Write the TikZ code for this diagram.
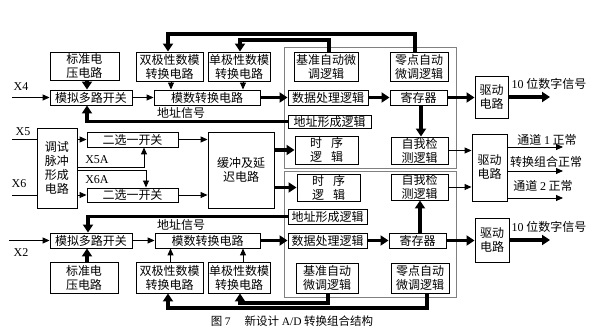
\documentclass[tikz,border=0pt]{standalone}
\usepackage{fontspec}
\setmainfont{Noto Sans CJK SC}
\newfontfamily\lat{Liberation Serif}
\usetikzlibrary{arrows.meta, positioning}

\begin{document}
\begin{tikzpicture}[
  x=1pt, y=-1pt,
  blk/.style={rectangle, draw, line width=0.9pt, inner sep=0pt, align=center, font=\fontsize{12}{14}\selectfont},
  lblk/.style={blk, align=left, inner xsep=1.5pt},
  sig/.style={line width=0.9pt, -{Triangle[length=7pt,width=6pt]}},
  bus/.style={line width=3.5pt, -{Triangle[length=8pt,width=10pt]}},
  frame/.style={draw=gray, line width=0.9pt},
  lbl/.style={inner sep=0pt, font=\fontsize{12}{14}\selectfont}
]
  \useasboundingbox (0,0) rectangle (590,328);

  % gray frames round the logic blocks
  \draw[frame] (284,47) rectangle (456,168);
  \draw[frame] (284,171) rectangle (456,297);

  % upper channel
  \node[blk, minimum width=69pt, minimum height=28pt] (bz1) at (84.5,66) {标准电\\压电路};
  \node[blk, minimum width=82pt, minimum height=15pt] (mn1) at (91,97.5) {模拟多路开关};
  \node[blk, minimum width=67pt, minimum height=29pt] (sj1) at (169.5,66.5) {双极性数模\\转换电路};
  \node[blk, minimum width=62pt, minimum height=29pt] (dj1) at (239,66.5) {单极性数模\\转换电路};
  \node[blk, minimum width=106pt, minimum height=15pt] (ms1) at (207,97.5) {模数转换电路};
  \node[blk, minimum width=64pt, minimum height=29pt] (jz1) at (326,66.5) {基准自动微\\调逻辑};
  \node[blk, minimum width=58pt, minimum height=29pt] (ld1) at (419,66.5) {零点自动\\微调逻辑};
  \node[blk, minimum width=80pt, minimum height=15pt] (sc1) at (328,97.5) {数据处理逻辑};
  \node[blk, minimum width=57pt, minimum height=15pt] (jc1) at (418.5,97.5) {寄存器};
  \node[blk, minimum width=33pt, minimum height=42pt] (qd1) at (491.5,97) {驱动\\电路};
  \node[blk, minimum width=83pt, minimum height=13pt] (dz1) at (329.5,121.5) {地址形成逻辑};
  \node[blk, minimum width=63pt, minimum height=28pt] (sx1) at (326.5,150) {时\hspace{9pt}序\\逻\hspace{9pt}辑};
  \node[blk, minimum width=57pt, minimum height=27pt] (zw1) at (419.5,150.5) {自我检\\测逻辑};
  \node[lbl] (adr1) at (181,113) {地址信号};

  % test pulse part
  \node[blk, minimum width=91pt, minimum height=15pt] (ex1) at (132.5,139.5) {二选一开关};
  \node[blk, minimum width=91pt, minimum height=14pt] (ex2) at (132.5,195) {二选一开关};
  \coordinate (x5in) at (12,139.5);
  \coordinate (x6in) at (12,195);
  \draw[sig] (x5in) -- (ex1.west);
  \draw[sig] (x6in) -- (ex2.west);
  \node[blk, fill=white, minimum width=40pt, minimum height=80pt] (ts) at (57,168) {调试\\脉冲\\形成\\电路};
  \node[blk, minimum width=66pt, minimum height=76pt] (hc) at (241,170) {缓冲及延\\迟电路};
  \node[blk, minimum width=63pt, minimum height=27pt] (sx2) at (328.5,187.5) {时\hspace{9pt}序\\逻\hspace{9pt}辑};
  \node[blk, minimum width=57pt, minimum height=26pt] (zw2) at (419.5,187) {自我检\\测逻辑};
  \node[blk, minimum width=35pt, minimum height=67pt] (qd2) at (489.5,167.5) {驱动\\电路};

  % lower channel
  \node[blk, minimum width=79pt, minimum height=15pt] (dz2) at (327.5,216.5) {地址形成逻辑};
  \node[blk, minimum width=82pt, minimum height=15pt] (mn2) at (91,240.5) {模拟多路开关};
  \node[blk, minimum width=105pt, minimum height=15pt] (ms2) at (207.5,240.5) {模数转换电路};
  \node[blk, minimum width=79pt, minimum height=15pt] (sc2) at (327.5,240.5) {数据处理逻辑};
  \node[blk, minimum width=57pt, minimum height=15pt] (jc2) at (417.5,240.5) {寄存器};
  \node[blk, minimum width=34pt, minimum height=44pt] (qd3) at (492,240) {驱动\\电路};
  \node[lblk, minimum width=62pt, minimum height=30pt] (jz2) at (327,278) {基准自动\\微调逻辑};
  \node[lblk, minimum width=58pt, minimum height=30pt] (ld2) at (420,278) {零点自动\\微调逻辑};
  \node[blk, minimum width=68pt, minimum height=31pt] (bz2) at (84,277.5) {标准电\\压电路};
  \node[blk, minimum width=67pt, minimum height=31pt] (sj2) at (169.5,277.5) {双极性数模\\转换电路};
  \node[blk, minimum width=62pt, minimum height=31pt] (dj2) at (239,277.5) {单极性数模\\转换电路};
  \node[lbl] (adr2) at (181,225) {地址信号};

  % input and output labels
  \node[lbl, font=\lat\fontsize{12}{14}\selectfont] (lx4) at (21,87) {X4};
  \node[lbl, font=\lat\fontsize{12}{14}\selectfont] (lx5) at (23,132) {X5};
  \node[lbl, font=\lat\fontsize{12}{14}\selectfont] (lx6) at (19,184) {X6};
  \node[lbl, font=\lat\fontsize{12}{14}\selectfont] (lx2) at (21,253) {X2};
  \node[lbl, font=\lat\fontsize{12}{14}\selectfont] (lx5a) at (97,160) {X5A};
  \node[lbl, font=\lat\fontsize{12}{14}\selectfont] (lx6a) at (97,180) {X6A};
  \node[lbl] (out1) at (549,84) {{\lat 10} 位数字信号};
  \node[lbl] (ok1) at (547,140) {通道 {\lat 1} 正常};
  \node[lbl] (ok0) at (546,162) {转换组合正常};
  \node[lbl] (ok2) at (543,186) {通道 {\lat 2} 正常};
  \node[lbl] (out2) at (549,227) {{\lat 10} 位数字信号};
  \node[lbl, font=\fontsize{11.5}{13}\selectfont] (cap) at (292,321) {图 {\lat 7}\hspace{14pt}新设计 {\lat A/D} 转换组合结构};

  \coordinate (x4in) at (12,97.5);
  \coordinate (x2in) at (9,240.5);
  \coordinate (o1) at (550,97);
  \coordinate (o2) at (550,240);
  \coordinate (c1) at (563,147);
  \coordinate (c0) at (563,171);
  \coordinate (c2) at (563,198);

  % thin signal lines
  \draw[sig] (x4in) -- (mn1.west);
  \draw[sig] (x2in) -- (mn2.west);
  \draw[sig] (mn1) -- (ms1);
  \draw[sig] (mn2) -- (ms2);
  \draw[sig] ([xshift=1.5pt]sj1.south) -- ([xshift=1.5pt]sj1.south |- ms1.north);
  \draw[sig] ([xshift=4pt]dj1.south) -- ([xshift=4pt]dj1.south |- ms1.north);
  \draw[sig] ([xshift=1pt]sj2.north) -- ([xshift=1pt]sj2.north |- ms2.south);
  \draw[sig] ([xshift=4pt]dj2.north) -- ([xshift=4pt]dj2.north |- ms2.south);
  \draw[sig] (ex1.east) -- (ex1.east -| hc.west);
  \draw[sig] (ex2.east) -- (ex2.east -| hc.west);
  \draw[sig] (ts.east |- 0,167) -| ([xshift=11.5pt]ex1.south);
  \draw[sig] (ts.east |- 0,170) -| ([xshift=13.5pt]ex2.north);
  \draw[sig] (zw1.east) -- (zw1.east -| qd2.west);
  \draw[sig] (zw2.east) -- (zw2.east -| qd2.west);
  \draw[sig] (c1 -| qd2.east) -- (c1);
  \draw[sig] (c0 -| qd2.east) -- (c0);
  \draw[sig] (c2 -| qd2.east) -- (c2);

  % thick data lines
  \draw[bus] (bz1.south -| 87,0) -- (mn1.north -| 87,0);
  \draw[bus] (bz2.north -| 87,0) -- (mn2.south -| 87,0);
  \draw[bus] (ms1) -- (sc1);
  \draw[bus] (sc1) -- (jc1);
  \draw[bus] (jc1.east) -- (jc1.east -| qd1.west);
  \draw[bus] (qd1.east |- o1) -- (o1);
  \draw[bus] (ms2) -- (sc2);
  \draw[bus] (sc2) -- (jc2);
  \draw[bus] (jc2.east) -- (jc2.east -| qd3.west);
  \draw[bus] (qd3.east |- o2) -- (o2);
  \draw[bus] ([xshift=2.5pt]jc1.south) -- ([xshift=2.5pt]jc1.south |- zw1.north);
  \draw[bus] ([xshift=2.5pt]jc2.north) -- ([xshift=2.5pt]jc2.north |- zw2.south);
  \draw[bus] (hc.east |- sx1) -- (sx1.west);
  \draw[bus] (hc.east |- sx2) -- (sx2.west);
  \draw[bus] (dz1.west) -| ([xshift=-4pt]mn1.south);
  \draw[bus] (dz2.west) -| ([xshift=-3pt]mn2.north);

  % calibration feedback
  \draw[bus] ([xshift=-4pt]ld1.north) -- ([xshift=-4pt]ld1.north |- 0,34) -| ([xshift=-1.5pt]sj1.north);
  \draw[bus] ([xshift=3pt]jz1.north) -- ([xshift=3pt]jz1.north |- 0,40) -| ([xshift=1pt]dj1.north);
  \draw[bus] ([xshift=7pt]ld2.south) -- ([xshift=7pt]ld2.south |- 0,308) -| ([xshift=-1.5pt]sj2.south);
  \draw[bus] ([xshift=1pt]jz2.south) -- ([xshift=1pt]jz2.south |- 0,303) -| ([xshift=1pt]dj2.south);
\end{tikzpicture}
\end{document}
